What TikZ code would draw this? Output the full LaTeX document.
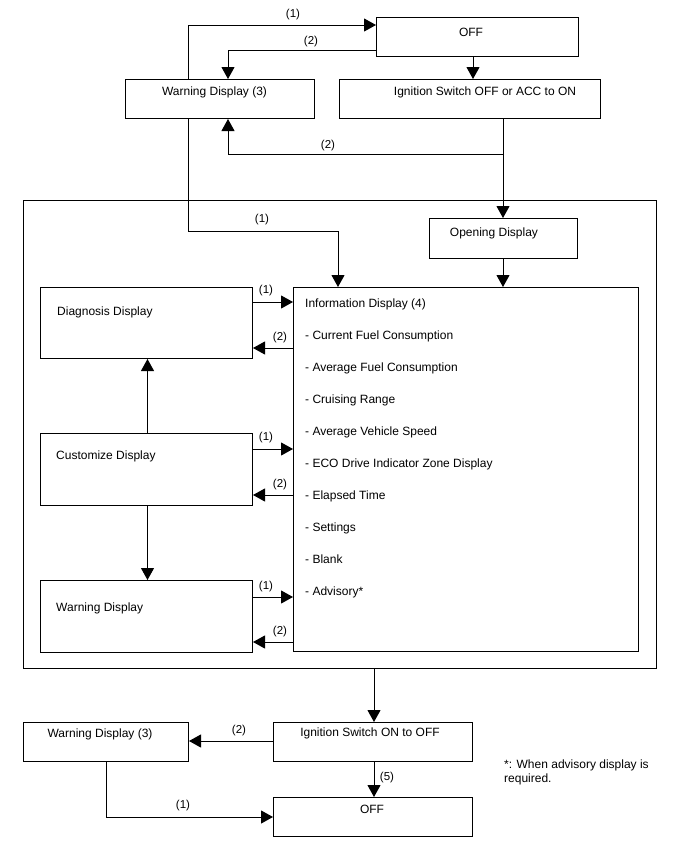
\documentclass[tikz,border=0pt]{standalone}
\usepackage{fontspec}
\setmainfont{Liberation Sans}
\usetikzlibrary{arrows.meta,calc}
\begin{document}
\begin{tikzpicture}[x=1pt,y=-1pt,
  box/.style={draw, line width=1pt, inner sep=0pt, anchor=north west},
  txt/.style={font=\fontsize{12}{14}\selectfont, inner sep=0pt, text height=8.6pt, text depth=0pt},
  lbl/.style={font=\fontsize{11.5}{13}\selectfont, inner sep=0pt, text height=8.3pt, text depth=0pt},
  arr/.style={-{Triangle[length=12pt,width=13pt]}, line width=1pt},
  ln/.style={line width=1pt}]
\useasboundingbox (0,0) rectangle (688,852);
% boxes
\node[box, minimum width=202pt, minimum height=39pt] (off1) at (376,17) {};
\node[box, minimum width=189pt, minimum height=39pt] (warn3a) at (125,79) {};
\node[box, minimum width=261pt, minimum height=39pt] (ign1) at (339,79) {};
\node[box, minimum width=633pt, minimum height=468pt] (frame) at (23,200) {};
\node[box, minimum width=148pt, minimum height=40pt] (open) at (429,218) {};
\node[box, minimum width=345pt, minimum height=364pt] (info) at (293,287) {};
\node[box, minimum width=212pt, minimum height=71pt] (diag) at (40,287) {};
\node[box, minimum width=212pt, minimum height=72pt] (cust) at (40,433) {};
\node[box, minimum width=212pt, minimum height=72pt] (warn) at (40,580) {};
\node[box, minimum width=165pt, minimum height=39pt] (warn3b) at (23,722) {};
\node[box, minimum width=199pt, minimum height=39pt] (ign2) at (273,722) {};
\node[box, minimum width=199pt, minimum height=39pt] (off2) at (273,797) {};
% texts
\node[txt] (toff1) at (471,32) {OFF};
\node[txt] (twarn3a) at (214.5,91) {Warning Display (3)};
\node[txt] (tign1) at (485,91) {Ignition Switch OFF or ACC to ON};
\node[txt] (topen) at (494,232) {Opening Display};
\node[txt, anchor=west] (ti0) at (305,303) {Information Display (4)};
\node[txt, anchor=west] (ti1) at (305,335) {- Current Fuel Consumption};
\node[txt, anchor=west] (ti2) at (305,367) {- Average Fuel Consumption};
\node[txt, anchor=west] (ti3) at (305,399) {- Cruising Range};
\node[txt, anchor=west] (ti4) at (305,431) {- Average Vehicle Speed};
\node[txt, anchor=west] (ti5) at (305,463) {- ECO Drive Indicator Zone Display};
\node[txt, anchor=west] (ti6) at (305,495) {- Elapsed Time};
\node[txt, anchor=west] (ti7) at (305,527) {- Settings};
\node[txt, anchor=west] (ti8) at (305,559) {- Blank};
\node[txt, anchor=west] (ti9) at (305,591) {- Advisory*};
\node[txt, anchor=west] (tdiag) at (57,311) {Diagnosis Display};
\node[txt, anchor=west] (tcust) at (56,455) {Customize Display};
\node[txt, anchor=west] (twarn) at (56,607) {Warning Display};
\node[txt] (twarn3b) at (100,733) {Warning Display (3)};
\node[txt] (tign2) at (370,732) {Ignition Switch ON to OFF};
\node[txt] (toff2) at (372,809) {OFF};
\node[font=\fontsize{12}{14}\selectfont, inner sep=0pt, anchor=north west, align=left] (foot) at (504,760) {*: When advisory display is\\required.};
% coordinates
\coordinate (c1) at (188,25);
\coordinate (c2) at (228,50);
\coordinate (c3) at (473,0);
\coordinate (c4) at (503,154);
\coordinate (c5) at (228,154);
\coordinate (c6) at (188,231);
\coordinate (c7) at (338,231);
\coordinate (c8) at (374,0);
\coordinate (c9) at (106,817);
% connectors top
\draw[arr] (warn3a.north -| c1) |- (off1.west |- c1);
\node[lbl] (l1) at (293,13) {(1)};
\draw[arr] (off1.west |- c2) -| (warn3a.north -| c2);
\node[lbl] (l2) at (311,40) {(2)};
\draw[arr] (off1.south -| c3) -- (ign1.north -| c3);
\draw[arr] (ign1.south -| c4) -- (c4) -- (c5) -- (warn3a.south -| c5);
\node[lbl] (l3) at (328,144) {(2)};
\draw[arr] (ign1.south -| c4) -- (open.north -| c4);
\draw[arr] (warn3a.south -| c6) -- (c6) -- (c7) -- (info.north -| c7);
\node[lbl] (l4) at (262,218) {(1)};
\draw[arr] (open.south -| c4) -- (info.north -| c4);
% side arrows
\coordinate (d1) at (0,302);
\coordinate (d2) at (0,348);
\coordinate (e1) at (0,449);
\coordinate (e2) at (0,495);
\coordinate (f1) at (0,597);
\coordinate (f2) at (0,642);
\draw[arr] (diag.east |- d1) -- (info.west |- d1);
\draw[arr] (info.west |- d2) -- (diag.east |- d2);
\draw[arr] (cust.east |- e1) -- (info.west |- e1);
\draw[arr] (info.west |- e2) -- (cust.east |- e2);
\draw[arr] (warn.east |- f1) -- (info.west |- f1);
\draw[arr] (info.west |- f2) -- (warn.east |- f2);
\node[lbl] (ld1) at (266,289) {(1)};
\node[lbl] (ld2) at (280,336) {(2)};
\node[lbl] (le1) at (266,436) {(1)};
\node[lbl] (le2) at (280,483) {(2)};
\node[lbl] (lf1) at (266,585) {(1)};
\node[lbl] (lf2) at (280,630) {(2)};
\draw[arr] ([xshift=1pt]cust.north) -- ([xshift=1pt]diag.south);
\draw[arr] ([xshift=1pt]cust.south) -- ([xshift=1pt]warn.north);
% bottom
\draw[arr] (frame.south -| c8) -- (ign2.north -| c8);
\coordinate (g1) at (0,741);
\draw[arr] (ign2.west |- g1) -- (warn3b.east |- g1);
\node[lbl] (lg1) at (239,729) {(2)};
\draw[arr] (ign2.south -| c8) -- (off2.north -| c8);
\node[lbl] (lg2) at (387,776) {(5)};
\draw[arr] (warn3b.south -| c9) |- (off2.west |- c9);
\node[lbl] (lg3) at (183,804) {(1)};
\end{tikzpicture}
\end{document}
